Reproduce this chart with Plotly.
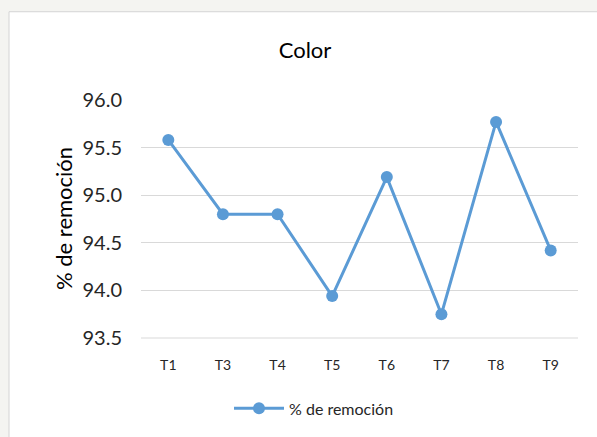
import plotly.graph_objects as go

categories = ["T1", "T3", "T4", "T5", "T6", "T7", "T8", "T9"]
remocion = [95.58, 94.80, 94.80, 93.94, 95.19, 93.75, 95.77, 94.42]
y_ticks = [93.5, 94.0, 94.5, 95.0, 95.5, 96.0]
y_ticktext = [f"{v:.1f}" for v in y_ticks]

W, H = 597, 437
L, R, T, B = 141, 578, 100, 340

def px(x):
    return (x - L) / (R - L)

def py(y):
    return (B - y) / (B - T)

FONT = "Lato"
fig = go.Figure()
fig.add_trace(go.Scatter(
    x=categories, y=remocion, mode="lines+markers", name="% de remoción",
    line=dict(color="#5b9bd5", width=3),
    marker=dict(color="#5b9bd5", size=12),
))

fig.update_layout(
    width=W, height=H,
    margin=dict(l=L, r=W - R, t=T, b=H - B),
    paper_bgcolor="#f4f4f1",
    plot_bgcolor="white",
    font=dict(family=FONT, color="#262626"),
    title=dict(text="Color", x=305 / W, xanchor="center", y=1 - 50 / H, yanchor="middle",
               font=dict(size=22, family=FONT, color="#000000")),
    showlegend=True,
    legend=dict(orientation="h", x=px(314), xanchor="center", y=py(411), yanchor="middle",
                itemwidth=50,
                font=dict(size=16, family=FONT, color="#262626"), bgcolor="rgba(0,0,0,0)"),
    xaxis=dict(range=[-0.5, 7.5], showgrid=False, showline=False, ticks="", zeroline=False,
               tickfont=dict(size=14, family=FONT, color="#262626"), ticklabelstandoff=17),
    yaxis=dict(range=[93.5, 96.0], tickvals=y_ticks, ticktext=y_ticktext,
               showgrid=True, gridcolor="#d9d9d9", gridwidth=1, zeroline=False, showline=False,
               ticks="", tickfont=dict(size=20, family=FONT, color="#262626"), ticklabelstandoff=18),
    shapes=[dict(type="rect", xref="paper", yref="paper",
                 x0=px(9), x1=px(605), y0=py(445), y1=py(11),
                 fillcolor="white", line=dict(color="#d4d4d4", width=1), layer="below"),
            dict(type="line", xref="paper", yref="paper", x0=0, x1=1, y0=0, y1=0,
                 line=dict(color="#d9d9d9", width=1), layer="above")],
    annotations=[dict(text="% de remoción", xref="paper", yref="paper", x=px(63), y=py(220),
                      xanchor="center", yanchor="middle", textangle=-90, showarrow=False,
                      font=dict(size=22, family=FONT, color="#000000"))],
)

fig.write_html("out.html")
